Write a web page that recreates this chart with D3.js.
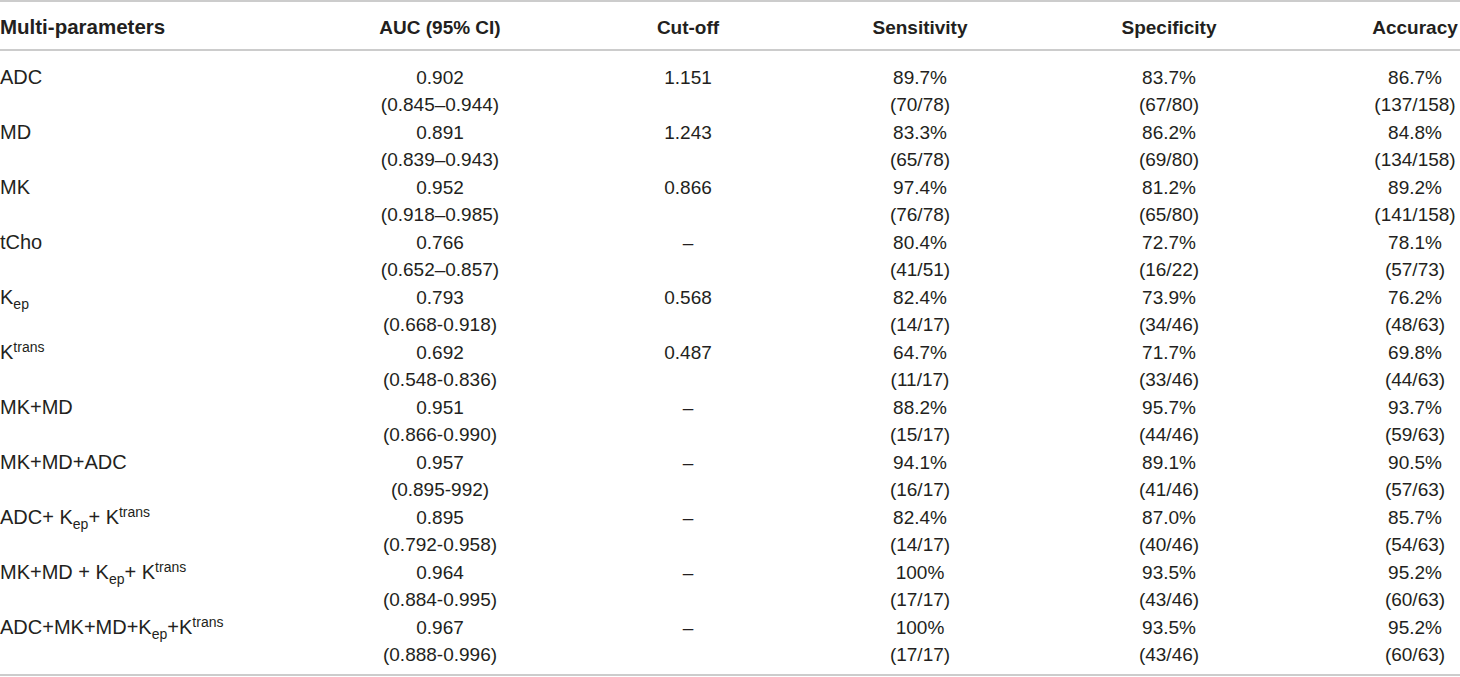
<!DOCTYPE html>
<html>
<head>
<meta charset="utf-8">
<script src="https://cdn.jsdelivr.net/npm/d3@7"></script>
<style>
  html, body { margin: 0; padding: 0; background: #fff; }
  svg { display: block; }
  text { font-family: "Liberation Sans", Arial, Helvetica, sans-serif; fill: #231f20; }
</style>
</head>
<body>
<svg id="chart" width="1460" height="677"></svg>
<script>
// ---- data ----
const headers = ["Multi-parameters", "AUC (95% CI)", "Cut-off", "Sensitivity", "Specificity", "Accuracy"];
// labels as segments: [text, kind] where kind is "" | "sub" | "sup"
const params = [
  [["ADC", ""]],
  [["MD", ""]],
  [["MK", ""]],
  [["tCho", ""]],
  [["K", ""], ["ep", "sub"]],
  [["K", ""], ["trans", "sup"]],
  [["MK+MD", ""]],
  [["MK+MD+ADC", ""]],
  [["ADC+ K", ""], ["ep", "sub"], ["+ K", ""], ["trans", "sup"]],
  [["MK+MD + K", ""], ["ep", "sub"], ["+ K", ""], ["trans", "sup"]],
  [["ADC+MK+MD+K", ""], ["ep", "sub"], ["+K", ""], ["trans", "sup"]]
];
const auc = ["0.902", "0.891", "0.952", "0.766", "0.793", "0.692", "0.951", "0.957", "0.895", "0.964", "0.967"];
const aucCI = ["(0.845–0.944)", "(0.839–0.943)", "(0.918–0.985)", "(0.652–0.857)", "(0.668-0.918)", "(0.548-0.836)",
               "(0.866-0.990)", "(0.895-992)", "(0.792-0.958)", "(0.884-0.995)", "(0.888-0.996)"];
const cutoff = ["1.151", "1.243", "0.866", "–", "0.568", "0.487", "–", "–", "–", "–", "–"];
const sensitivity = ["89.7%", "83.3%", "97.4%", "80.4%", "82.4%", "64.7%", "88.2%", "94.1%", "82.4%", "100%", "100%"];
const sensCount = ["(70/78)", "(65/78)", "(76/78)", "(41/51)", "(14/17)", "(11/17)", "(15/17)", "(16/17)", "(14/17)", "(17/17)", "(17/17)"];
const specificity = ["83.7%", "86.2%", "81.2%", "72.7%", "73.9%", "71.7%", "95.7%", "89.1%", "87.0%", "93.5%", "93.5%"];
const specCount = ["(67/80)", "(69/80)", "(65/80)", "(16/22)", "(34/46)", "(33/46)", "(44/46)", "(41/46)", "(40/46)", "(43/46)", "(43/46)"];
const accuracy = ["86.7%", "84.8%", "89.2%", "78.1%", "76.2%", "69.8%", "93.7%", "90.5%", "85.7%", "95.2%", "95.2%"];
const accCount = ["(137/158)", "(134/158)", "(141/158)", "(57/73)", "(48/63)", "(44/63)", "(59/63)", "(57/63)", "(54/63)", "(60/63)", "(60/63)"];

// ---- layout ----
const W = 1460, H = 677;
const svg = d3.select("#chart");
const fontSize = 19;
const labelSize = 20;

// column centres (label column is left aligned)
const colX = d3.scaleOrdinal()
  .domain(headers)
  .range([0, 440, 688, 920, 1169, 1415]);

// row first-line positions
const rowY = d3.scaleLinear().domain([0, params.length - 1]).range([77, 627]);
const lineGap = 27.5;

// rules
const rules = [1, 50, 675];
svg.selectAll("line.rule").data(rules).join("line")
  .attr("class", "rule")
  .attr("x1", 0).attr("x2", W)
  .attr("y1", d => d).attr("y2", d => d)
  .attr("stroke", "#9a9a9a")
  .attr("stroke-width", 1.2);

// header
svg.selectAll("text.hdr").data(headers).join("text")
  .attr("class", "hdr")
  .attr("x", d => colX(d))
  .attr("y", 27)
  .attr("dy", "0.35em")
  .attr("text-anchor", (d, i) => i === 0 ? "start" : "middle")
  .style("font-size", (d, i) => (i === 0 ? 20.5 : fontSize) + "px")
  .style("font-weight", "bold")
  .text(d => d);

// labels
const lab = svg.selectAll("text.lab").data(params).join("text")
  .attr("class", "lab")
  .attr("x", 0)
  .attr("y", (d, i) => rowY(i))
  .attr("dy", "0.35em")
  .style("font-size", labelSize + "px");
lab.each(function(segs) {
  const t = d3.select(this);
  segs.forEach(([s, kind]) => {
    const ts = t.append("tspan").text(s);
    if (kind === "sub") {
      ts.style("font-size", "14px").attr("baseline-shift", "-5");
    } else if (kind === "sup") {
      ts.style("font-size", "14px").attr("baseline-shift", "7");
    }
  });
});

// value columns
const cols = [
  { key: headers[1], top: auc, bottom: aucCI },
  { key: headers[2], top: cutoff, bottom: null },
  { key: headers[3], top: sensitivity, bottom: sensCount },
  { key: headers[4], top: specificity, bottom: specCount },
  { key: headers[5], top: accuracy, bottom: accCount }
];
cols.forEach(c => {
  const g = svg.append("g");
  g.selectAll("text.t").data(c.top).join("text")
    .attr("class", "t")
    .attr("x", colX(c.key))
    .attr("y", (d, i) => rowY(i))
    .attr("dy", "0.35em")
    .attr("text-anchor", "middle")
    .style("font-size", fontSize + "px")
    .text(d => d);
  if (c.bottom) {
    g.selectAll("text.b").data(c.bottom).join("text")
      .attr("class", "b")
      .attr("x", colX(c.key))
      .attr("y", (d, i) => rowY(i) + lineGap)
      .attr("dy", "0.35em")
      .attr("text-anchor", "middle")
      .style("font-size", fontSize + "px")
      .text(d => d);
  }
});
</script>
</body>
</html>
